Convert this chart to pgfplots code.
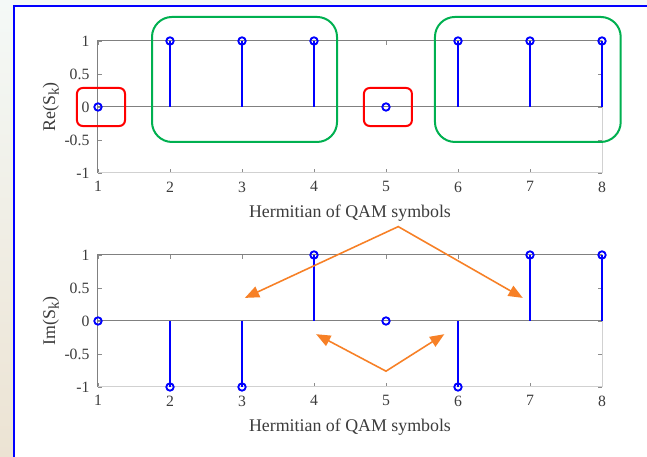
\documentclass[border=0pt]{standalone}
\usepackage{pgfplots}
\pgfplotsset{compat=1.18}
\usepackage{fontspec}
\setmainfont{Liberation Serif}
\usetikzlibrary{arrows.meta}
\definecolor{stemblue}{RGB}{0,0,255}
\definecolor{boxred}{RGB}{255,0,0}
\definecolor{boxgreen}{RGB}{0,176,80}
\definecolor{arroworange}{RGB}{247,128,38}
\definecolor{ticktext}{RGB}{60,60,60}
\definecolor{bgtop}{RGB}{244,249,247}
\definecolor{bgbot}{RGB}{236,227,211}
\newcommand{\subk}{\raisebox{-0.45ex}{\fontsize{10.5}{12}\selectfont k}}
\pgfplotsset{
 stemaxis/.style={
  scale only axis, width=352.8pt, height=92.4pt,
  xmin=1,xmax=8,ymin=-1,ymax=1,
  xtick={1,...,8}, ytick={-1,-0.5,0,0.5,1},
  axis line style={draw=black!18, line width=0.7pt},
  tick style={draw=black!45, line width=0.5pt},
  major tick length=3pt,
  tick align=inside,
  ticklabel style={font=\fontsize{11}{13}\selectfont, text=ticktext},
  xticklabel style={yshift=-2.5pt},
  yticklabel style={xshift=-2.5pt, /pgf/number format/fixed},
  /pgf/number format/assume math mode=true,
  label style={font=\fontsize{12.5}{14}\selectfont, text=ticktext},
  xlabel style={yshift=-2pt},
  ylabel style={yshift=-3pt},
  xlabel={Hermitian of QAM symbols},
  clip=false,
 },
 stem/.style={ycomb, color=stemblue, line width=1.3pt, mark=o, mark size=2.6pt, mark options={line width=1.3pt}},
}
\begin{document}
\begin{tikzpicture}
\useasboundingbox (0,0) rectangle (452.9pt,-319.9pt);
\clip (0,0) rectangle (452.9pt,-319.9pt);
\shade[top color=bgtop, bottom color=bgbot] (0,0) rectangle (452.9pt,-319.9pt);
\draw[draw=stemblue, fill=white, line width=1.4pt] (9.8pt,-4.2pt) rectangle (480pt,-340pt);

\begin{axis}[stemaxis, at={(68.6pt,-121.1pt)}, anchor=south west, ylabel={Re(S\subk)}]
\draw[black!50, line width=0.7pt] (axis cs:1,-1) -- (axis cs:1,1) -- (axis cs:8,1);
\draw[black!50, line width=0.7pt] (axis cs:1,0) -- (axis cs:8,0);
\addplot[stem] coordinates {(1,0)(2,1)(3,1)(4,1)(5,0)(6,1)(7,1)(8,1)};
\draw[boxred, line width=1.4pt, rounded corners=4pt] (axis cs:0.708,0.288) rectangle (axis cs:1.375,-0.288);
\draw[boxred, line width=1.4pt, rounded corners=4pt] (axis cs:4.694,0.288) rectangle (axis cs:5.36,-0.288);
\draw[boxgreen, line width=1.4pt, rounded corners=14pt] (axis cs:1.75,1.364) rectangle (axis cs:4.32,-0.53);
\draw[boxgreen, line width=1.4pt, rounded corners=14pt] (axis cs:5.68,1.364) rectangle (axis cs:8.26,-0.53);
\end{axis}

\begin{axis}[stemaxis, at={(68.6pt,-270.9pt)}, anchor=south west, ylabel={Im(S\subk)}]
\draw[black!50, line width=0.7pt] (axis cs:1,-1) -- (axis cs:1,1) -- (axis cs:8,1);
\draw[black!50, line width=0.7pt] (axis cs:1,0) -- (axis cs:8,0);
\addplot[stem] coordinates {(1,0)(2,-1)(3,-1)(4,1)(5,0)(6,-1)(7,1)(8,1)};
\draw[arroworange, line width=1.1pt, {Triangle[length=10pt,width=8pt]}-{Triangle[length=10pt,width=8pt]}] (axis cs:3.04,0.35) -- (axis cs:5.17,1.43) -- (axis cs:6.90,0.35);
\draw[arroworange, line width=1.1pt, {Triangle[length=10pt,width=8pt]}-{Triangle[length=10pt,width=8pt]}] (axis cs:4.03,-0.2) -- (axis cs:5.0,-0.76) -- (axis cs:5.81,-0.2);
\end{axis}
\end{tikzpicture}
\end{document}
